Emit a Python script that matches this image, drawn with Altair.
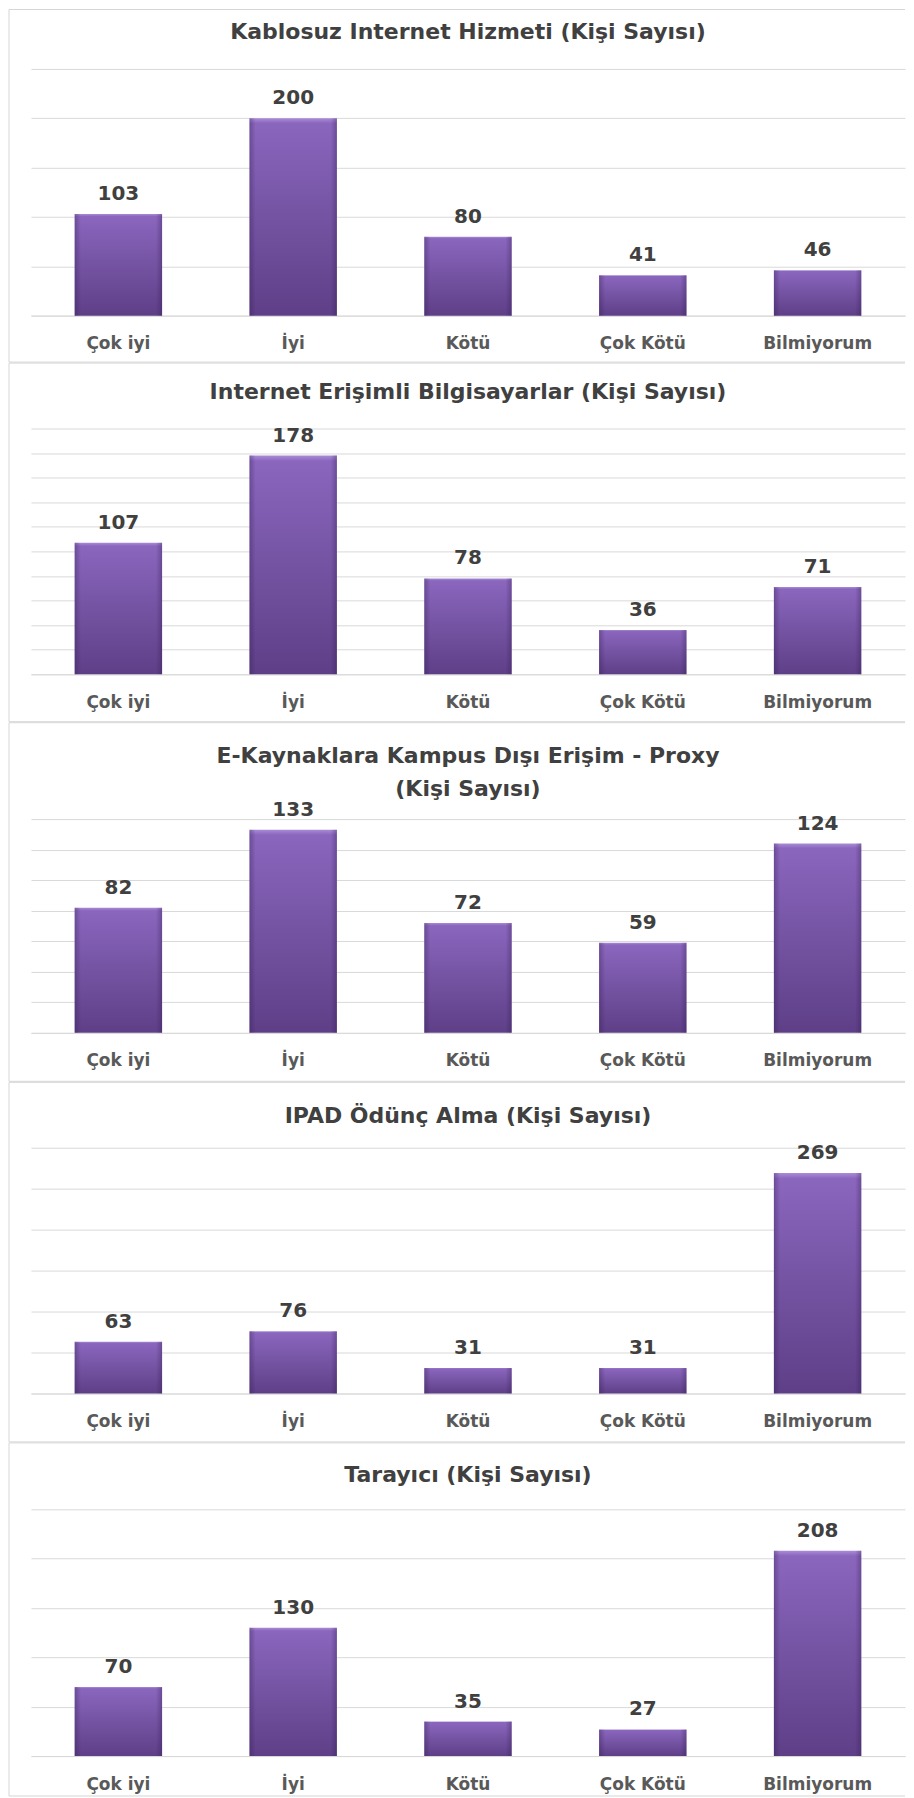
import altair as alt
import pandas as pd

# ---- data ----
categories = ["Çok iyi", "İyi", "Kötü", "Çok Kötü", "Bilmiyorum"]
titles = [
    "Kablosuz Internet Hizmeti (Kişi Sayısı)",
    "Internet Erişimli Bilgisayarlar  (Kişi Sayısı)",
    ["E-Kaynaklara  Kampus  Dışı Erişim - Proxy", "(Kişi Sayısı)"],
    "IPAD Ödünç Alma (Kişi Sayısı)",
    "Tarayıcı (Kişi Sayısı)",
]
kablosuz = [103, 200, 80, 41, 46]
bilgisayar = [107, 178, 78, 36, 71]
proxy = [82, 133, 72, 59, 124]
ipad = [63, 76, 31, 31, 269]
tarayici = [70, 130, 35, 27, 208]
series = [kablosuz, bilgisayar, proxy, ipad, tarayici]
axis_max = [250, 200, 140, 300, 250]
axis_step = [50, 20, 20, 50, 50]

# ---- layout / style ----
PLOT_W = 875
SPACING = 113
plot_h = [247, 246, 246, 248, 250]   # plot area heights
grid_h = [247, 246, 214, 246, 247]   # height from baseline to top gridline
box_top = [-59.5, -65.5, -64.5, -63.5, -63.5]
box_bot = [293.5, 293.5, 294.5, 296.5, 290]
title_off = [-45, -51.5, -88.5, -56.5, -55]
BOX_L, BOX_R = -22, 875
GRID = "#d9d9d9"
BORDER = "#d6d6d6"
FONT = "DejaVu Sans"

grad = alt.Gradient(
    gradient="linear",
    stops=[
        alt.GradientStop(color="#a98bd6", offset=0),
        alt.GradientStop(color="#8a66bd", offset=0.025),
        alt.GradientStop(color="#5e3f87", offset=1),
    ],
    x1=0, x2=0, y1=0, y2=1,
)
edge_grad = alt.Gradient(
    gradient="linear",
    stops=[
        alt.GradientStop(color="rgba(50,25,80,0.35)", offset=0),
        alt.GradientStop(color="rgba(50,25,80,0)", offset=0.07),
        alt.GradientStop(color="rgba(50,25,80,0)", offset=0.93),
        alt.GradientStop(color="rgba(50,25,80,0.35)", offset=1),
    ],
    x1=0, x2=1, y1=0, y2=0,
)

one_row = pd.DataFrame({"k": [0]})


def frame_lines(i):
    rule = alt.Chart(one_row).mark_rule(color=BORDER, strokeWidth=1)
    top = rule.encode(x=alt.value(BOX_L), x2=alt.value(BOX_R),
                      y=alt.value(box_top[i]))
    bot = rule.encode(x=alt.value(BOX_L), x2=alt.value(BOX_R),
                      y=alt.value(box_bot[i]))
    left = rule.encode(x=alt.value(BOX_L), y=alt.value(box_top[i]),
                       y2=alt.value(box_bot[i]))
    return [top, bot, left]


def panel(i):
    df = pd.DataFrame({"kategori": categories, "deger": series[i]})
    dom_max = axis_max[i] * plot_h[i] / grid_h[i]
    x = alt.X(
        "kategori:N",
        sort=categories,
        scale=alt.Scale(paddingInner=0.5, paddingOuter=0.25),
        axis=alt.Axis(
            title=None, labelAngle=0, ticks=False, domain=True,
            domainColor=GRID, domainWidth=1, grid=False,
            labelPadding=28, labelBaseline="middle", labelFont=FONT,
            labelFontSize=17, labelFontWeight="bold", labelColor="#595959",
        ),
    )
    y = alt.Y(
        "deger:Q",
        scale=alt.Scale(domain=[0, dom_max], nice=False, zero=True),
        axis=alt.Axis(
            title=None, labels=False, ticks=False, domain=False, grid=True,
            gridColor=GRID, gridWidth=1,
            values=list(range(0, axis_max[i] + 1, axis_step[i])),
        ),
    )
    base = alt.Chart(df)
    bars = base.mark_bar(color=grad).encode(x=x, y=y)
    edges = base.mark_bar(color=edge_grad).encode(x=x, y=y)
    labels = base.mark_text(
        dy=-20, baseline="middle", font=FONT, fontSize=20,
        fontWeight="bold", color="#404040",
    ).encode(x=x, y=y, text="deger:Q")
    return alt.layer(*frame_lines(i), bars, edges, labels).properties(
        width=PLOT_W,
        height=plot_h[i],
        title=alt.TitleParams(
            text=titles[i], offset=title_off[i], baseline="middle",
            anchor="middle", frame="group", font=FONT, fontSize=22,
            fontWeight="bold", color="#404040", lineHeight=33,
        ),
    )


chart = alt.vconcat(
    *[panel(i) for i in range(5)], spacing=SPACING, bounds="flush"
).properties(
    padding={"left": 0, "top": 0, "right": 0, "bottom": 0}
).configure_view(stroke=None)

chart.save("out.html", embed_options={"renderer": "svg", "actions": False})
